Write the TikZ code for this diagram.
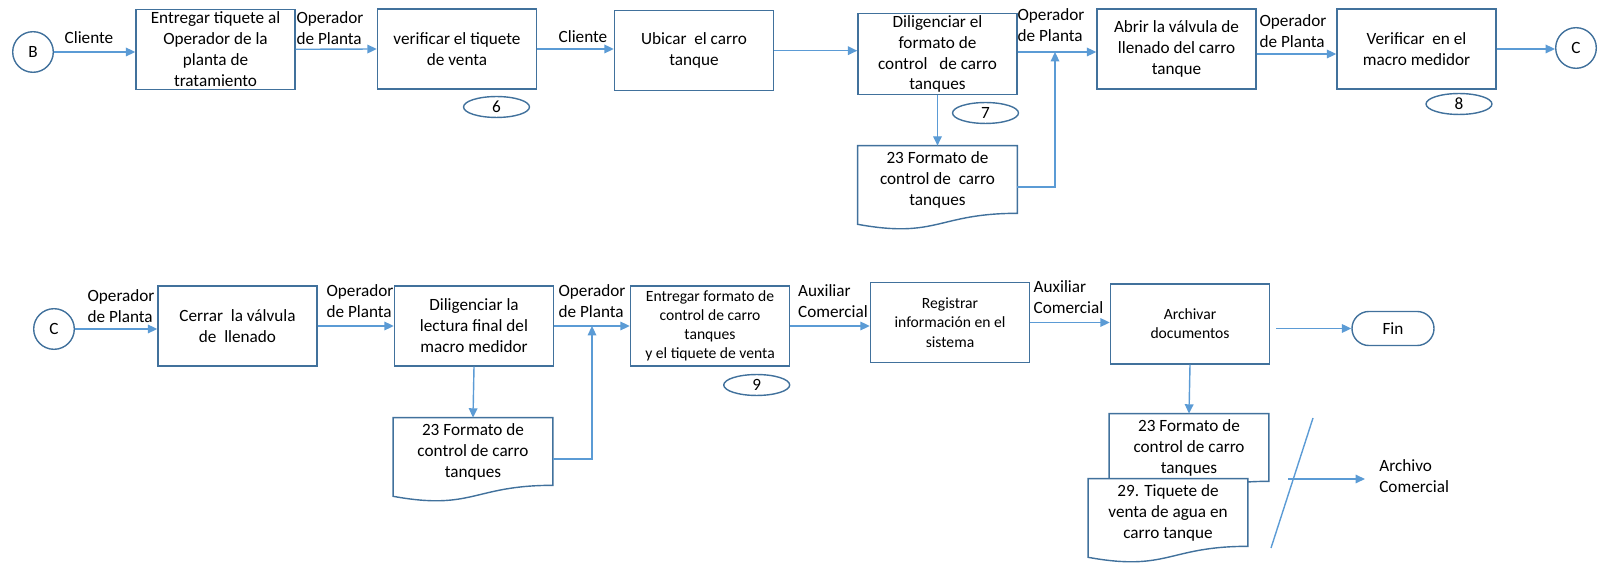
\documentclass[tikz,border=0pt]{standalone}
\usepackage{fontspec}
\setmainfont{Carlito}
\usetikzlibrary{arrows.meta,shapes.geometric,calc}

\definecolor{boxblue}{HTML}{41719C}
\definecolor{lineblue}{HTML}{5B9BD5}

% outline of a document symbol, wavy bottom hanging below the node
\newcommand{\docshape}[1]{%
  \draw[docline] (#1.north west) -- (#1.north east) -- (#1.south east)
    .. controls (#1.south) and ($(#1.south)+(0,25.5)$) .. ($(#1.south west)+(0,11)$) -- cycle;}

\begin{document}
\begin{tikzpicture}[x=0.64pt,y=-0.64pt]
\tikzset{box/.style = {shape=rectangle,draw=boxblue,line width=0.9pt,minimum width=101.8pt,minimum height=51.2pt,align=center,inner sep=1pt,font=\fontsize{11}{13.4}\selectfont}}
\tikzset{smallbox/.style = {box,font=\fontsize{10}{12.3}\selectfont}}
\tikzset{doc/.style = {shape=rectangle,fill=white,minimum width=101.8pt,minimum height=42.9pt,align=center,inner sep=1pt,font=\fontsize{11}{13.4}\selectfont}}
\tikzset{docline/.style = {draw=boxblue,line width=0.9pt}}
\tikzset{num/.style = {shape=ellipse,draw=boxblue,line width=0.9pt,minimum width=42.2pt,minimum height=13.4pt,inner sep=0pt,font=\fontsize{11}{13.4}\selectfont}}
\tikzset{conn/.style = {shape=circle,draw=boxblue,line width=0.9pt,minimum size=26pt,inner sep=0pt,font=\fontsize{11}{13.4}\selectfont}}
\tikzset{lab/.style = {align=left,inner sep=0pt,font=\fontsize{11}{13.4}\selectfont}}
\tikzset{edge/.style = {->,> = {Triangle[length=6pt,width=5.5pt]},draw=lineblue,line width=0.9pt}}

\useasboundingbox (0,0) rectangle (1598,563);

% first row
\node[conn] (B) at (33,52) {B};
\node[box] (entregar) at (215.5,49.3) {Entregar tiquete al\\Operador de la\\planta de\\tratamiento};
\node[box] (verificar) at (457,49) {verificar el tiquete\\de venta};
\node[box] (ubicar) at (694,50.7) {Ubicar\ \ el carro\\tanque};
\node[box] (formato) at (937.5,54) {Diligenciar el\\formato de\\control\ \ \ de carro\\tanques};
\node[box] (abrir) at (1176.5,49) {Abrir la válvula de\\llenado del carro\\tanque};
\node[box] (medidor) at (1416.5,49) {Verificar\ \ en el\\macro medidor};
\node[conn] (C) at (1576,48) {C};

\node[num] (n6) at (496.5,107) {6};
\node[num] (n7) at (985.5,113) {7};
\node[num] (n8) at (1459,104) {8};

\node[doc] (fa) at (937.5,179.5) {23 Formato de\\control de\ \ carro\\tanques};
\docshape{fa}

\node[lab] (l1) at (89,38) {Cliente};
\node[lab] (l2) at (330,28) {Operador\\de Planta};
\node[lab] (l3) at (583,36.5) {Cliente};
\node[lab] (l4) at (1051,25.5) {Operador\\de Planta};
\node[lab] (l5) at (1293,31) {Operador\\de Planta};

\coordinate (j1) at (1055,52);

\draw[edge] (B.east) -- (B.east -| entregar.west);
\draw[edge] (entregar.east) -- (verificar.west);
\draw[edge] (verificar.east) -- (verificar.east -| ubicar.west);
\draw[edge] (ubicar.east) -- (ubicar.east -| formato.west);
\draw[edge] (formato.east |- j1) -- (abrir.west |- j1);
\draw[edge] (formato.south) -- (fa.north);
\draw[edge] ([yshift=-4.8pt]fa.east) -| (j1);
\draw[edge] ([yshift=-3.2pt]abrir.east) -- ([yshift=-3.2pt]medidor.west);
\draw[edge] (medidor.east) -- (medidor.east -| C.west);

% second row
\node[conn] (C2) at (54,329) {C};
\node[box] (cerrar) at (237.5,326) {Cerrar\ \ la válvula\\de\ \ llenado};
\node[box] (lectura) at (474,326) {Diligenciar la\\lectura final del\\macro medidor};
\node[smallbox] (entregar2) at (710,326) {Entregar formato de\\control de carro\\tanques\\y el tiquete de venta};
\node[smallbox] (registrar) at (950,322.5) {Registrar\\información en el\\sistema};
\node[smallbox] (archivar) at (1190,324) {Archivar\\documentos};
\node[shape=rectangle,draw=boxblue,line width=0.9pt,rounded corners=10.9pt,minimum width=52.5pt,minimum height=21.8pt,font=\fontsize{11}{13.4}\selectfont] (fin) at (1393,328.5) {Fin};

\node[num] (n9) at (756.7,385) {9};

\node[doc] (fb) at (473,451.5) {23 Formato de\\control de carro\\tanques};
\docshape{fb}
\node[doc] (fc) at (1189,447.5) {23 Formato de\\control de carro\\tanques};
\docshape{fc}
\node[doc] (fd) at (1168,512.5) {29. Tiquete de\\venta de agua en\\carro tanque};
\docshape{fd}

\node[lab] (l6) at (121,306.5) {Operador\\de Planta};
\node[lab] (l7) at (360,300.7) {Operador\\de Planta};
\node[lab] (l8) at (592,300.7) {Operador\\de Planta};
\node[lab] (l9) at (833,300.7) {Auxiliar\\Comercial};
\node[lab] (l10) at (1068.5,297.5) {Auxiliar\\Comercial};
\node[lab,anchor=west] (arch) at (1379,476.5) {Archivo\\Comercial};

\coordinate (j2) at (592,326);
\coordinate (s1) at (1313,418);
\coordinate (s2) at (1271,548);
\coordinate (a0) at (1288,479);

\draw[edge] (C2.east) -- (C2.east -| cerrar.west);
\draw[edge] (cerrar.east) -- (lectura.west);
\draw[edge] (lectura.east) -- (entregar2.west);
\draw[edge] (lectura.south) -- (fb.north);
\draw[edge] ([yshift=-4.8pt]fb.east) -| (j2);
\draw[edge] (entregar2.east) -- (entregar2.east -| registrar.west);
\draw[edge] (registrar.east) -- (registrar.east -| archivar.west);
\draw[edge,shorten <=3.8pt] (fin.west -| archivar.east) -- (fin.west);
\draw[edge] (archivar.south) -- (fc.north);
\draw[lineblue,line width=0.9pt] (s1) -- (s2);
\draw[edge,shorten >=9pt] (a0) -- (a0 -| arch.west);
\end{tikzpicture}
\end{document}
